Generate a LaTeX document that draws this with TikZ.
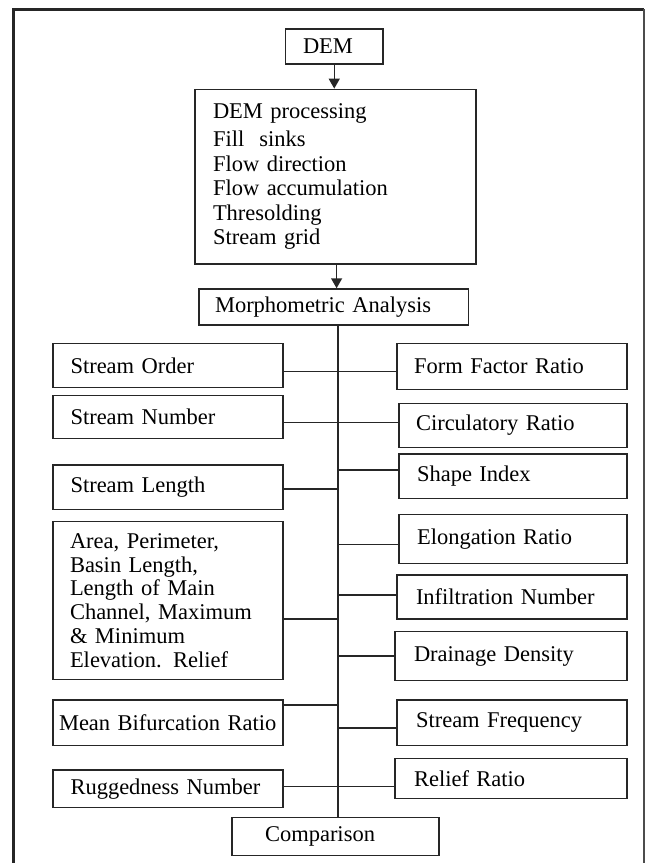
\documentclass[tikz,border=0pt]{standalone}
\usepackage{fontspec}
\setmainfont{Liberation Serif}
\usetikzlibrary{arrows.meta,calc}
\begin{document}
\begin{tikzpicture}[x=1pt,y=-1pt,
  box/.style={draw=black!85, line width=1.5pt, inner ysep=0pt, align=left,
    font=\fontsize{22.5}{24}\selectfont, text=black},
  link/.style={draw=black!85, line width=1.5pt},
  arr/.style={link, -{Triangle[length=10pt,width=11pt]}}]
\useasboundingbox (0,0) rectangle (646,863);
% outer frame (cut at the bottom)
\draw[line width=3pt, black!85] (13,863) -- (13,9) -- (644,9);
\draw[line width=1.5pt, black!70] (644,9) -- (644,863);

% top chain
\node[box, text width=62.5pt, inner xsep=17.5pt, minimum height=35pt] (DEM) at (334.25,46.5) {DEM};
\node[box, text width=245pt, inner xsep=18pt, minimum height=174.7pt,
  font=\fontsize{22.5}{24.5}\selectfont] (DP) at (335.5,176.7)
  {DEM processing\\[3.5pt] Fill~ sinks\\ Flow direction\\ Flow accumulation\\ Thresolding\\ Stream grid};
\node[box, text width=237.5pt, inner xsep=16pt, minimum height=36pt] (M) at (333.75,307) {Morphometric Analysis};

% left column
\node[box, text width=195pt, inner xsep=17.5pt, minimum height=44pt] (SO) at (168,365.3) {Stream Order};
\node[box, text width=195pt, inner xsep=17.5pt, minimum height=43pt] (SN) at (168,416.8) {Stream Number};
\node[box, text width=195pt, inner xsep=17.5pt, minimum height=44.7pt] (SL) at (168,487.35) {Stream Length};
\node[box, text width=196pt, inner xsep=17pt, minimum height=157.6pt,
  font=\fontsize{22.5}{23.7}\selectfont] (BB) at (168,600.5)
  {Area, Perimeter,\\ Basin Length,\\ Length of Main\\ Channel, Maximum\\ \& Minimum\\ Elevation. Relief};
\node[box, text width=218pt, inner xsep=6pt, minimum height=45.7pt] (MB) at (168,722.85) {Mean Bifurcation Ratio};
\node[box, text width=195pt, inner xsep=17.5pt, minimum height=37.7pt] (RN) at (168,788.85) {Ruggedness Number};

% right column
\node[box, text width=196pt, inner xsep=17pt, minimum height=46pt] (FF) at (512,366.3) {Form Factor Ratio};
\node[box, text width=194pt, inner xsep=17pt, minimum height=44.4pt] (CR) at (513,425.5) {Circulatory Ratio};
\node[box, text width=192pt, inner xsep=18pt, minimum height=44.7pt] (SI) at (513,476.35) {Shape Index};
\node[box, text width=192pt, inner xsep=18pt, minimum height=49pt] (ER) at (513,538.8) {Elongation Ratio};
\node[box, text width=192pt, inner xsep=19pt, minimum height=44pt] (IN) at (512,597) {Infiltration Number};
\node[box, text width=194pt, inner xsep=19pt, minimum height=49pt] (DD) at (511,656.2) {Drainage Density};
\node[box, text width=192pt, inner xsep=19pt, minimum height=45.7pt] (SF) at (512,722.85) {Stream Frequency};
\node[box, text width=194pt, inner xsep=19pt, minimum height=40pt] (RR) at (511,778.3) {Relief Ratio};

% bottom
\node[box, text width=141pt, inner xsep=33pt, minimum height=38pt] (C) at (335.5,836.7) {Comparison};

% arrows
\draw[arr] (DEM.south) -- (DEM.south |- DP.north);
\draw[arr] ([xshift=1.1pt]DP.south) -- ([xshift=1.1pt]DP.south |- M.north);

% trunk
\coordinate (tx) at (338,0);
\draw[link] (M.south -| tx) -- (C.north -| tx);

% branches
\draw[link] ([yshift=-6.4pt]SO.east) -- ([yshift=-6.4pt]SO.east -| FF.west);
\draw[link] ([yshift=-5.5pt]SN.east) -- ([yshift=-5.5pt]SN.east -| CR.west);
\draw[link] ([yshift=6.3pt]SI.west) -- ([yshift=6.3pt]SI.west -| tx);
\draw[link] ([yshift=-1.7pt]SL.east) -- ([yshift=-1.7pt]SL.east -| tx);
\draw[link] ([yshift=-5.5pt]ER.west) -- ([yshift=-5.5pt]ER.west -| tx);
\draw[link] ([yshift=-18.5pt]BB.east) -- ([yshift=-18.5pt]BB.east -| tx);
\draw[link] ([yshift=2pt]IN.west) -- ([yshift=2pt]IN.west -| tx);
\draw[link] (DD.west) -- (DD.west -| tx);
\draw[link] ([yshift=18pt]MB.east) -- ([yshift=18pt]MB.east -| tx);
\draw[link] ([yshift=-5pt]SF.west) -- ([yshift=-5pt]SF.west -| tx);
\draw[link] ([yshift=2.15pt]RN.east) -- ([yshift=2.15pt]RN.east -| RR.west);
\end{tikzpicture}
\end{document}
